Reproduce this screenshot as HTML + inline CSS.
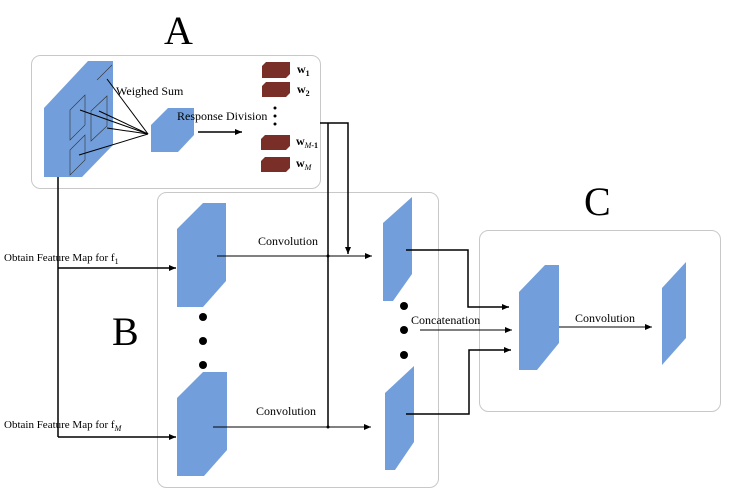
<!DOCTYPE html>
<html><head><style>
body{margin:0;background:#fff;}
svg{display:block;font-family:"Liberation Serif",serif;}
</style></head><body>
<svg width="735" height="493" viewBox="0 0 735 493" xmlns="http://www.w3.org/2000/svg">
<defs>
<marker id="ar" markerWidth="8" markerHeight="8" refX="7" refY="4" orient="auto" markerUnits="userSpaceOnUse">
<path d="M0,1 L7,4 L0,7 z" fill="#000"/></marker>
</defs>
<!-- boxes -->
<rect x="31.5" y="55.5" width="289" height="133" rx="9" fill="none" stroke="#c8c8c8"/>
<rect x="157.5" y="192.5" width="281" height="295" rx="9" fill="none" stroke="#c8c8c8"/>
<rect x="479.5" y="230.5" width="241" height="181" rx="9" fill="none" stroke="#c8c8c8"/>
<!-- big letters -->
<text x="164" y="44" font-size="40">A</text>
<text x="112" y="345" font-size="40">B</text>
<text x="584" y="215" font-size="40">C</text>
<!-- A: big cube -->
<polygon points="44,177 44,108 88,61 113,61 113,145 82,177" fill="#729fdb"/>
<g stroke="#333" stroke-width="0.6" fill="none">
<polygon points="70,110 85,95 85,125 70,140"/>
<polygon points="97,80 112,65"/>
<polygon points="91,111 107,96 107,126 91,141"/>
<polygon points="70,150 85,135 85,160 70,175"/>
</g>
<g stroke="#000" stroke-width="1">
<line x1="107" y1="79" x2="148" y2="134"/>
<line x1="80" y1="110" x2="148" y2="134"/>
<line x1="99" y1="111" x2="148" y2="134"/>
<line x1="107" y1="128" x2="148" y2="134"/>
<line x1="79" y1="155" x2="148" y2="134"/>
</g>
<polygon points="151,152 151,125 168,108 194,108 194,135 178,152" fill="#729fdb"/>
<text x="116" y="95" font-size="12">Weighed Sum</text>
<text x="177" y="120" font-size="12">Response Division</text>
<line x1="198" y1="132" x2="242" y2="132" stroke="#000" stroke-width="1.5" marker-end="url(#ar)"/>
<!-- weights -->
<g fill="#7a2e28">
<polygon points="262,78 262,66 266,62 290,62 290,74 286,78"/>
<polygon points="262,97 262,86 266,82 290,82 290,93 286,97"/>
<polygon points="261,150 261,139 265,135 290,135 290,146 286,150"/>
<polygon points="261,172 261,161 265,157 290,157 290,168 286,172"/>
</g>
<g font-size="12" font-weight="bold">
<text x="297" y="73">w<tspan font-size="8" dy="3">1</tspan></text>
<text x="297" y="93">w<tspan font-size="8" dy="3">2</tspan></text>
<text x="296" y="145">w<tspan font-size="8" dy="3" font-style="italic" font-weight="normal">M</tspan><tspan font-size="8" dy="0">-1</tspan></text>
<text x="296" y="167">w<tspan font-size="8" dy="3" font-style="italic" font-weight="normal">M</tspan></text>
</g>
<g fill="#000"><circle cx="275" cy="108" r="1.5"/><circle cx="275" cy="116" r="1.5"/><circle cx="275" cy="124" r="1.5"/></g>
<!-- A to B lines -->
<g stroke="#000" stroke-width="1.5" fill="none">
<polyline points="320,123 348,123 348,254" marker-end="url(#ar)"/>
<line x1="328" y1="123" x2="328" y2="427"/>
<line x1="58" y1="177" x2="58" y2="437"/>
<line x1="58" y1="268" x2="176" y2="268" marker-end="url(#ar)"/>
<line x1="58" y1="437" x2="176" y2="437" marker-end="url(#ar)"/>
</g>
<text x="4" y="261" font-size="11">Obtain Feature Map for f<tspan font-size="8" dy="3">1</tspan></text>
<text x="4" y="428" font-size="11">Obtain Feature Map for f<tspan font-size="8" dy="3" font-style="italic">M</tspan></text>
<!-- B prisms -->
<polygon points="177,307 177,229 203,203 226,203 226,281 203,307" fill="#729fdb"/>
<polygon points="177,476 177,398 203,372 227,372 227,450 204,476" fill="#729fdb"/>
<polygon points="383,301 383,223 412,197 412,274 393,301" fill="#729fdb"/>
<polygon points="385,470 385,393 414,366 414,442 395,470" fill="#729fdb"/>
<g fill="#000">
<circle cx="203" cy="317" r="4"/><circle cx="203" cy="341" r="4"/><circle cx="203" cy="365" r="4"/>
<circle cx="404" cy="306" r="4"/><circle cx="404" cy="330" r="4"/><circle cx="404" cy="355" r="4"/>
</g>
<g stroke="#000" stroke-width="1" fill="none">
<line x1="217" y1="256" x2="372" y2="256" marker-end="url(#ar)"/>
<line x1="213" y1="427" x2="371" y2="427" marker-end="url(#ar)"/>
<line x1="420" y1="330" x2="512" y2="330" marker-end="url(#ar)"/>
<line x1="559" y1="327" x2="652" y2="327" marker-end="url(#ar)"/>
</g>
<g fill="#000"><circle cx="328" cy="256" r="1.5"/><circle cx="328" cy="427" r="1.5"/></g>
<text x="258" y="245" font-size="12">Convolution</text>
<text x="256" y="415" font-size="12">Convolution</text>
<text x="411" y="324" font-size="12">Concatenation</text>
<text x="575" y="322" font-size="12">Convolution</text>
<g stroke="#000" stroke-width="1.5" fill="none">
<polyline points="406,250 468,250 468,307 509,307" marker-end="url(#ar)"/>
<polyline points="406,414 469,414 469,350 511,350" marker-end="url(#ar)"/>
</g>
<!-- C prisms -->
<polygon points="519,370 519,292 545,265 559,265 559,343 537,370" fill="#729fdb"/>
<polygon points="662,365 662,288 686,262 686,338" fill="#729fdb"/>
</svg>
</body></html>
